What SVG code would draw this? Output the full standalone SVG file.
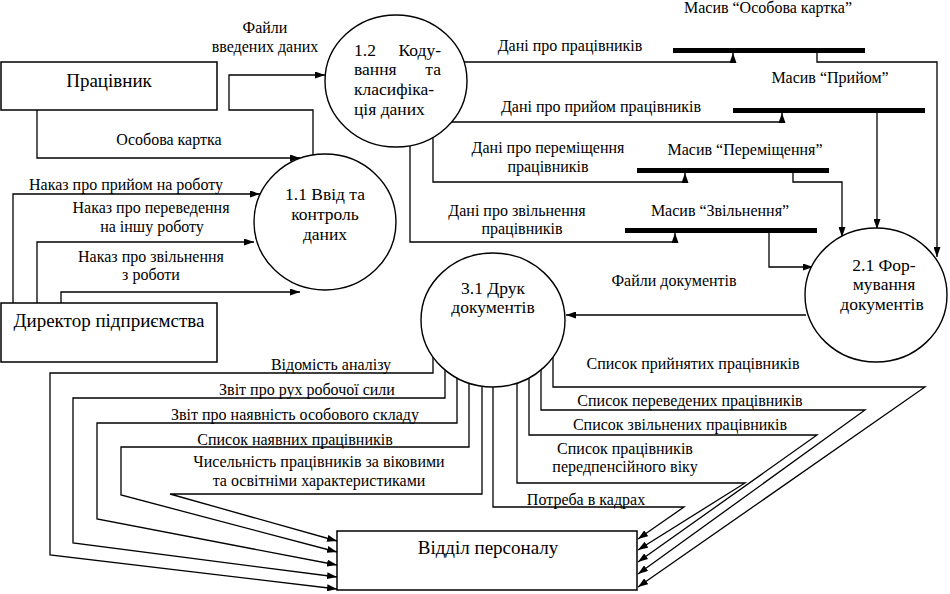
<svg xmlns="http://www.w3.org/2000/svg" width="950" height="594" viewBox="0 0 950 594" font-family="'Liberation Serif', 'DejaVu Serif', serif">
<style>
text{font-family:'Liberation Serif','DejaVu Serif',serif;fill:#000}
.n{font-size:19px;text-anchor:middle}
.c{font-size:17.5px}
.cm{font-size:17.5px;text-anchor:middle}
.l{font-size:16px;text-anchor:middle}
.box{fill:#fff;stroke:#000;stroke-width:1.5}
.proc{fill:#fff;stroke:#000;stroke-width:1.4}
.bar{fill:#000}
.w{fill:none;stroke:#000;stroke-width:1.3}
</style>
<defs>
<marker id="ah" markerUnits="userSpaceOnUse" markerWidth="10" markerHeight="7" refX="10" refY="3.5" orient="auto">
<path d="M0,0 L10,3.5 L0,7 z" fill="#000"/>
</marker>
</defs>
<rect width="950" height="594" fill="#fff"/>

<g id="connectors">
<path class="w" d="M37,110 V158 H300" marker-end="url(#ah)"/>
<path class="w" d="M313,156 V110 H229 V75 H325" marker-end="url(#ah)"/>
<path class="w" d="M13,303 V194 H260" marker-end="url(#ah)"/>
<path class="w" d="M37,303 V242 H254" marker-end="url(#ah)"/>
<path class="w" d="M61,303 V292 H300" marker-end="url(#ah)"/>
<path class="w" d="M463,62 H733 V53" marker-end="url(#ah)"/>
<path class="w" d="M452,122 H782 V113" marker-end="url(#ah)"/>
<path class="w" d="M433,137 V182 H685 V173" marker-end="url(#ah)"/>
<path class="w" d="M410,146 V242 H675 V233" marker-end="url(#ah)"/>
<path class="w" d="M817,53 V62 H937 V257" marker-end="url(#ah)"/>
<path class="w" d="M877,113 V229" marker-end="url(#ah)"/>
<path class="w" d="M793,173 V182 H842 V237" marker-end="url(#ah)"/>
<path class="w" d="M769,233 V267 H813" marker-end="url(#ah)"/>
<path class="w" d="M806,315 H566" marker-end="url(#ah)"/>
<path class="w" d="M433,357 V373 H50 V555 L337,589" marker-end="url(#ah)"/>
<path class="w" d="M445,370 V398 H73 V543 L337,577" marker-end="url(#ah)"/>
<path class="w" d="M457,378 V423 H97 V519 L337,565" marker-end="url(#ah)"/>
<path class="w" d="M469,383 V447 H121 V495 L337,552" marker-end="url(#ah)"/>
<path class="w" d="M482,386 V494 H170 L337,541" marker-end="url(#ah)"/>
<path class="w" d="M553,357 V387 H925 L638,587" marker-end="url(#ah)"/>
<path class="w" d="M541,370 V410 H865 L638,574" marker-end="url(#ah)"/>
<path class="w" d="M529,378 V435 H817 L638,562" marker-end="url(#ah)"/>
<path class="w" d="M517,383 V483 H745 L638,550" marker-end="url(#ah)"/>
<path class="w" d="M493,387 V507 H684 L638,539" marker-end="url(#ah)"/>

<text class="l" x="265" y="33">Файли</text>
<text class="l" x="265" y="52">введених даних</text>
<text class="l" x="169" y="145">Особова картка</text>
<text class="l" x="126" y="190">Наказ про прийом на роботу</text>
<text class="l" x="151" y="213">Наказ про переведення</text>
<text class="l" x="152" y="232">на іншу роботу</text>
<text class="l" x="151" y="262">Наказ про звільнення</text>
<text class="l" x="151" y="280">з роботи</text>
<text class="l" x="570" y="51">Дані про працівників</text>
<text class="l" x="601" y="112">Дані про прийом працівників</text>
<text class="l" x="548" y="153">Дані про переміщення</text>
<text class="l" x="548" y="172">працівників</text>
<text class="l" x="517" y="216">Дані про звільнення</text>
<text class="l" x="522" y="234">працівників</text>
<text class="l" x="674" y="286">Файли документів</text>
<text class="l" x="331" y="370">Відомість аналізу</text>
<text class="l" x="307" y="395">Звіт про рух робочої сили</text>
<text class="l" x="295" y="420">Звіт про наявність особового складу</text>
<text class="l" x="295" y="445">Список наявних працівників</text>
<text class="l" x="319" y="467">Чисельність працівників за віковими</text>
<text class="l" x="319" y="486">та освітніми характеристиками</text>
<text class="l" x="693" y="369">Список прийнятих працівників</text>
<text class="l" x="690" y="406">Список переведених працівників</text>
<text class="l" x="680" y="430">Список звільнених працівників</text>
<text class="l" x="625" y="454">Список працівників</text>
<text class="l" x="625" y="472">передпенсійного віку</text>
<text class="l" x="586" y="505">Потреба в кадрах</text>
</g>

<g id="pracivnyk">
<rect class="box" x="1" y="62" width="216" height="48"/>
<text class="n" x="109" y="87">Працівник</text>
</g>

<g id="dyrektor">
<rect class="box" x="1" y="303" width="216" height="59"/>
<text class="n" x="109" y="327">Директор підприємства</text>
</g>

<g id="viddil">
<rect class="box" x="337" y="531" width="300" height="59"/>
<text class="n" x="488" y="554">Відділ персоналу</text>
</g>

<g id="p11">
<ellipse class="proc" cx="325" cy="222" rx="71" ry="68"/>
<text class="cm" x="325" y="200">1.1 Ввід та</text>
<text class="cm" x="325" y="220">контроль</text>
<text class="cm" x="325" y="240">даних</text>
</g>

<g id="p12">
<ellipse class="proc" cx="396" cy="81" rx="71" ry="66"/>
<text class="c" x="354" y="56">1.2</text>
<text class="c" x="441" y="56" text-anchor="end">Коду-</text>
<text class="c" x="354" y="75">вання</text>
<text class="c" x="441" y="75" text-anchor="end">та</text>
<text class="c" x="354" y="95">класифіка-</text>
<text class="c" x="354" y="115">ція даних</text>
</g>

<g id="p21">
<ellipse class="proc" cx="876" cy="295" rx="71" ry="67"/>
<text class="cm" x="884" y="271">2.1 Фор-</text>
<text class="cm" x="884" y="290">мування</text>
<text class="cm" x="882" y="310">документів</text>
</g>

<g id="p31">
<ellipse class="proc" cx="493" cy="320" rx="72" ry="67"/>
<text class="cm" x="493" y="294">3.1 Друк</text>
<text class="cm" x="493" y="313">документів</text>
</g>

<g id="store-osobova">
<rect class="bar" x="673" y="48" width="192" height="5"/>
<text class="l" x="768" y="13">Масив “Особова картка”</text>
</g>

<g id="store-pryiom">
<rect class="bar" x="733" y="108" width="192" height="5"/>
<text class="l" x="830" y="83">Масив “Прийом”</text>
</g>

<g id="store-peremishchennia">
<rect class="bar" x="637" y="168" width="192" height="5"/>
<text class="l" x="745" y="155">Масив “Переміщення”</text>
</g>

<g id="store-zvilnennia">
<rect class="bar" x="625" y="228" width="192" height="5"/>
<text class="l" x="720" y="216">Масив “Звільнення”</text>
</g>
</svg>
